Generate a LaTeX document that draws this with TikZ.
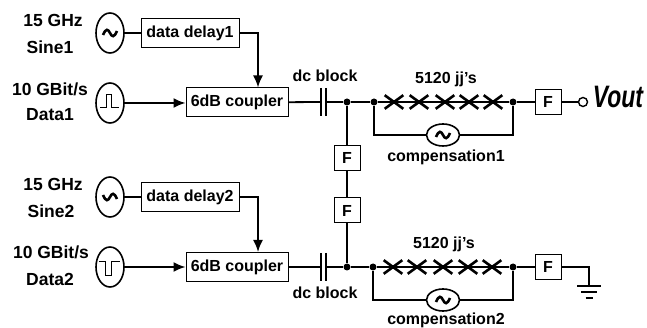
\documentclass[tikz,border=0pt]{standalone}
\usepackage{fontspec}
\setmainfont{Liberation Sans}
\usepackage{tikz}
\usetikzlibrary{arrows.meta,shapes.geometric,shapes.misc}
\newcommand{\sinewave}[1]{\draw[line width=2.6pt,shift={(#1)}] (-7,2) .. controls (-4,-5) and (-2,-4) .. (0,0) .. controls (2,4) and (4,5) .. (7,-2);}
\begin{document}
\begin{tikzpicture}[x=1pt,y=-1pt,line width=1.8pt,>={Latex[length=12pt,width=10pt]},
	every node/.style={font=\fontsize{16}{16}\selectfont\bfseries,inner sep=0pt},
	src/.style={ellipse,draw,line width=1.6pt,minimum width=28pt,minimum height=40pt},
	comp/.style={ellipse,draw,line width=1.6pt,minimum width=33pt,minimum height=22pt},
	box/.style={rectangle,draw,line width=1pt,fill=white,minimum height=29pt},
	filt/.style={rectangle,draw,line width=1pt,fill=white,minimum width=26pt,minimum height=25pt},
	dot/.style={circle,fill=black,minimum size=7pt},
	jj/.style={cross out,draw,line width=2.6pt,minimum width=16pt,minimum height=11pt}]
	\useasboundingbox (0,0) rectangle (647,328);

	\node at (53,20) {\fontsize{17.5}{17.5}\selectfont 15 GHz};
	\node at (50,47) {\fontsize{17.5}{17.5}\selectfont Sine1};
	\node at (50,89) {\fontsize{17.5}{17.5}\selectfont 10 GBit/s};
	\node at (50,115) {\fontsize{17.5}{17.5}\selectfont Data1};
	\node at (53,184) {\fontsize{17.5}{17.5}\selectfont 15 GHz};
	\node at (51,211) {\fontsize{17.5}{17.5}\selectfont Sine2};
	\node at (51,252) {\fontsize{17.5}{17.5}\selectfont 10 GBit/s};
	\node at (50,279) {\fontsize{17.5}{17.5}\selectfont Data2};

	\node[src] (sine1) at (110,33) {};
	\node[src] (data1) at (110,103) {};
	\node[src] (sine2) at (110,197) {};
	\node[src] (data2) at (110,267) {};
	\node[box,minimum width=98pt] (delay1) at (190,33) {data delay1};
	\node[box,minimum width=98pt] (delay2) at (190,197) {data delay2};
	\node[box,minimum width=102pt] (coupler1) at (237,102.5) {6dB coupler};
	\node[box,minimum width=102pt] (coupler2) at (237,267) {6dB coupler};

	\coordinate (bend1) at (258,33);
	\coordinate (bend2) at (258,197);
	\draw (sine1) -- (delay1);
	\draw (sine2) -- (delay2);
	\draw[->] (delay1) -- (bend1) -- (bend1 |- coupler1.north);
	\draw[->] (delay2) -- (bend2) -- (bend2 |- coupler2.north);
	\draw[->] (data1) -- (data1 -| coupler1.west);
	\draw[->] (data2) -- (coupler2);

	% dc block and the two junction chains
	\coordinate (capa1) at (321,102);
	\coordinate (capb1) at (326,102);
	\coordinate (capa2) at (321,267);
	\coordinate (capb2) at (326,267);
	\node[dot] (n1) at (347,102) {};
	\node[dot] (n2) at (374,102) {};
	\node[dot] (n3) at (513,102) {};
	\node[dot] (n4) at (347,267) {};
	\node[dot] (n5) at (373,267) {};
	\node[dot] (n6) at (513,267) {};
	\node at (325,76) {dc block};
	\node at (325,293) {dc block};
	\node at (446,79) {5120 jj's};
	\node at (444,244) {5120 jj's};
	\node at (446,157) {compensation1};
	\node at (446,320) {compensation2};

	\draw (coupler1) -- (capa1);
	\draw (coupler2) -- (capa2);
	\draw ([yshift=14pt]capa1) -- ([yshift=-14pt]capa1);
	\draw ([yshift=14pt]capb1) -- ([yshift=-14pt]capb1);
	\draw ([yshift=14pt]capa2) -- ([yshift=-14pt]capa2);
	\draw ([yshift=14pt]capb2) -- ([yshift=-14pt]capb2);
	\draw (capb1) -- (n1) -- (n2) -- (n3);
	\draw (capb2) -- (n4) -- (n5) -- (n6);

	\node[jj] (j1) at (394,102) {};
	\node[jj] (j2) at (419,102) {};
	\node[jj] (j3) at (445,102) {};
	\node[jj] (j4) at (469,102) {};
	\node[jj] (j5) at (493,102) {};
	\node[jj] (j6) at (393,267) {};
	\node[jj] (j7) at (417,267) {};
	\node[jj] (j8) at (443,267) {};
	\node[jj] (j9) at (468,267) {};
	\node[jj] (j10) at (492,267) {};

	\node[comp] (comp1) at (443,135) {};
	\node[comp] (comp2) at (443,300) {};
	\draw (n2) |- (comp1);
	\draw (n3) |- (comp1);
	\draw (n5) |- (comp2);
	\draw (n6) |- (comp2);

	\node[filt] (f1) at (347,158) {F};
	\node[filt] (f2) at (347,210.5) {F};
	\node[filt] (f3) at (548,102) {F};
	\node[filt] (f4) at (548,267) {F};
	\draw (n1) -- (f1) -- (f2) -- (n4);
	\draw[line width=1.2pt] (n3) -- (f3);
	\draw (n6) -- (f4);

	% output
	\node[circle,draw,line width=1.4pt,minimum size=9pt] (out) at (583,102) {};
	\node[xscale=.74,font=\fontsize{31}{31}\selectfont\bfseries\itshape] (vout) at (618,97) {Vout};
	\draw[line width=1.2pt] (f3) -- (out);

	% ground
	\coordinate (gnd) at (589,286);
	\draw (f4) -| (gnd);
	\draw ([xshift=-12pt]gnd) -- ([xshift=12pt]gnd);
	\draw ([shift={(-8pt,-6pt)}]gnd) -- ([shift={(8pt,-6pt)}]gnd);
	\draw ([shift={(-3.5pt,-12pt)}]gnd) -- ([shift={(3.5pt,-12pt)}]gnd);

	% source symbols
	\sinewave{sine1}
	\sinewave{comp1}
	\sinewave{comp2}
	\draw[line width=2.6pt,shift={(sine2)}] (-7,-2) .. controls (-4,5) and (-2,4) .. (0,0) .. controls (2,-4) and (4,-5) .. (7,2);
	\draw[line width=1pt,shift={(data1)}] (-10,5) -- (-4,5) -- (-4,-8) -- (1,-8) -- (1,5) -- (9,5);
	\draw[line width=1pt,shift={(data2)}] (-11,-5) -- (-5,-5) -- (-5,9) -- (1,9) -- (1,-5) -- (10,-5);
\end{tikzpicture}
\end{document}
